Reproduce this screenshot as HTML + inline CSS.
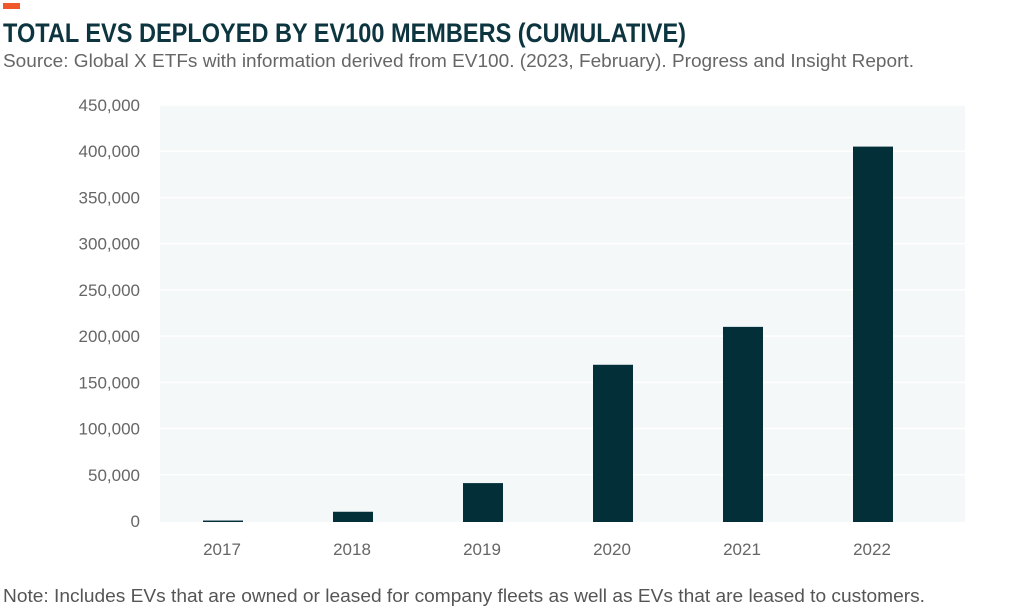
<!DOCTYPE html>
<html><head><meta charset="utf-8"><style>
body{margin:0;background:#fff;width:1024px;height:609px;overflow:hidden;font-family:"Liberation Sans",sans-serif;}
</style></head><body>
<svg width="1024" height="609" xmlns="http://www.w3.org/2000/svg">
<rect x="3" y="3" width="17" height="6" fill="#f0582a"/>
<text x="3" y="42" font-size="27" font-weight="bold" fill="#0d3540" textLength="683" lengthAdjust="spacingAndGlyphs">TOTAL EVS DEPLOYED BY EV100 MEMBERS (CUMULATIVE)</text>
<text x="3" y="67" font-size="18" fill="#666" textLength="911" lengthAdjust="spacingAndGlyphs">Source: Global X ETFs with information derived from EV100. (2023, February). Progress and Insight Report.</text>
<rect x="160" y="105" width="805" height="417" fill="#f5f8f9"/>
<g id="grid"></g><g id="yticks"></g><g id="bars"></g><g id="xticks"></g>
<text x="3" y="602" font-size="18" fill="#555" textLength="922" lengthAdjust="spacingAndGlyphs">Note: Includes EVs that are owned or leased for company fleets as well as EVs that are leased to customers.</text>
</svg>
<script>
const categories=["2017","2018","2019","2020","2021","2022"];
const values=[500,10000,41000,169000,210000,405000];
const yTicks=[0,50000,100000,150000,200000,250000,300000,350000,400000,450000];
const NS="http://www.w3.org/2000/svg";
const y0=521,y1=105,ymax=450000;
function y(v){return y0-(v/ymax)*(y0-y1);}
function x(i){return 158+130*i+65;}
function mk(t,a,p){const e=document.createElementNS(NS,t);for(const k in a)e.setAttribute(k,a[k]);document.getElementById(p).appendChild(e);return e;}
yTicks.forEach(v=>{
 if(v>0){const l=mk("line",{x1:160,x2:965,y1:y(v),y2:y(v),stroke:"#fff","stroke-width":1.5},"grid");
 
 }
 const t=mk("text",{x:140,y:y(v)+6,"text-anchor":"end","font-size":17,fill:"#666"},"yticks");
 t.textContent=v.toLocaleString("en-US");
 
 
});
categories.forEach((c,i)=>{
 const b=mk("rect",{x:x(i)-20,y:y(values[i]),width:40,height:y0-y(values[i])+1,fill:"#032f38"},"bars");
 
 
 const t=mk("text",{x:x(i)-1,y:555,"text-anchor":"middle","font-size":17,fill:"#666"},"xticks");
 t.textContent=c;
 
 
});
</script>
</body></html>
